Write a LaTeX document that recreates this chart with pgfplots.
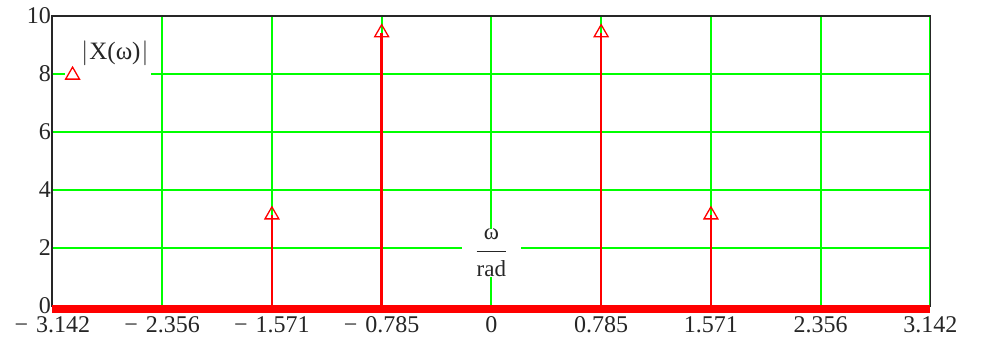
\documentclass[border=0pt]{standalone}
\usepackage{fontspec}
\setmainfont{Liberation Serif}
\usepackage{pgfplots}
\pgfplotsset{compat=1.18}
\definecolor{mgreen}{RGB}{0,255,0}
\definecolor{mred}{RGB}{255,0,0}
\begin{document}
\begin{tikzpicture}
\begin{axis}[
  width=878pt, height=290pt, scale only axis,
  xmin=-3.141593, xmax=3.141593, ymin=0, ymax=10,
  xtick={-3.141593,-2.356194,-1.570796,-0.785398,0,0.785398,1.570796,2.356194,3.141593},
  xticklabels={−\,\,3.142,−\,\,2.356,−\,\,1.571,−\,\,0.785,0,0.785,1.571,2.356,3.142},
  ytick={0,2,4,6,8,10}, yticklabels={0,2,4,6,8,10},
  grid=major, major grid style={mgreen, line width=2.1pt},
  axis line style={black!85, line width=1.8pt},
  tick style={draw=none},
  ticklabel style={font=\fontsize{24}{26}\selectfont, text=black!85},
  xticklabel style={yshift=-7pt},
  yticklabel style={xshift=2pt},
  clip=false,
  xlabel={$\displaystyle\frac{\mbox{\rule[-10pt]{0pt}{10pt}ω}}{\mbox{\rule{0pt}{24pt}rad}}$},
  xlabel style={at={(rel axis cs:0.5,0.183)}, anchor=center, fill=white, inner xsep=14pt, inner ysep=0pt, font=\fontsize{23}{25}\selectfont, text=black!85},
  legend style={at={(rel axis cs:0.0137,0.935)}, anchor=north west, draw=none, fill=white, inner xsep=1pt, inner ysep=4pt, font=\fontsize{25}{27}\selectfont, text=black!85, cells={anchor=center}},
  legend image code/.code={\draw[sharp plot, mred, line width=1.3pt, fill=white] plot[mark=triangle, mark size=8pt] coordinates {(0pt,-24pt)};},
]
\addplot[mred, line width=8pt, yshift=-3pt, forget plot] coordinates {(-3.141593,0) (3.141593,0)};
\addplot[ycomb, mred, line width=2.4pt, mark=triangle, mark options={solid, fill=white, mred, line width=1.3pt, mark size=8pt}]
  coordinates {(-1.570796,3.1416) (-0.785398,9.4248) (0.785398,9.4248) (1.570796,3.1416)};
\addlegendentry{$\Bigl|$\kern1pt X(ω)\kern1pt$\Bigr|$}
\coordinate (sw) at (rel axis cs:0,0);
\coordinate (ne) at (rel axis cs:1,1);
\end{axis}
\pgfresetboundingbox
\path[use as bounding box] ([shift={(-52.4pt,-39pt)}]sw) rectangle ([shift={(51.6pt,16pt)}]ne);
\end{tikzpicture}
\end{document}
